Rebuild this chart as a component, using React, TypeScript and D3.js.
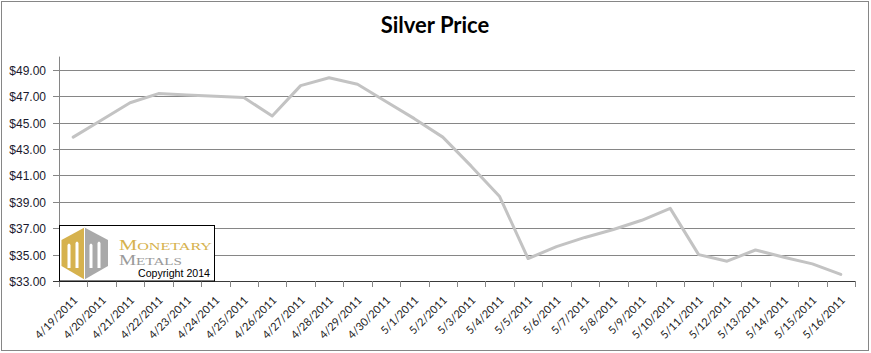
import React from "react";
import * as d3 from "d3";

const dates = [
  "4/19/2011","4/20/2011","4/21/2011","4/22/2011","4/23/2011","4/24/2011","4/25/2011",
  "4/26/2011","4/27/2011","4/28/2011","4/29/2011","4/30/2011","5/1/2011","5/2/2011",
  "5/3/2011","5/4/2011","5/5/2011","5/6/2011","5/7/2011","5/8/2011","5/9/2011",
  "5/10/2011","5/11/2011","5/12/2011","5/13/2011","5/14/2011","5/15/2011","5/16/2011",
];
const prices = [
  43.9, 45.2, 46.5, 47.2, 47.1, 47.0, 46.9,
  45.5, 47.8, 48.4, 47.9, 46.6, 45.3, 43.9,
  41.7, 39.4, 34.7, 35.6, 36.3, 36.9, 37.6,
  38.5, 35.0, 34.5, 35.35, 34.8, 34.3, 33.5,
];
const yTicks = [33, 35, 37, 39, 41, 43, 45, 47, 49];
const title = "Silver Price";

const W = 871, H = 353;
const left = 59, right = 855, top = 56.6, bottom = 281;

export default function App() {
  const x = d3.scaleBand<string>().domain(dates).range([left, right]).padding(0);
  const y = d3.scaleLinear().domain([33, 50]).range([bottom, top]);
  const cx = (d: string) => (x(d) as number) + x.bandwidth() / 2;
  const line = d3
    .line<number>()
    .x((_, i) => cx(dates[i]))
    .y((v) => y(v));
  const boundaries = dates.map((d) => x(d) as number).concat([right]);
  const gridColor = "#868686";

  const hx = 84.5, hl = 61.5, hr = 108, ht = 227.5, hu = 240, hd = 266, hb = 279.5;
  const leftHex = `M${hx},${ht} L${hl},${hu} L${hl},${hd} L${hx},${hb} Z`;
  const rightHex = `M${hx},${ht} L${hr},${hu} L${hr},${hd} L${hx},${hb} Z`;
  const slots = [67.5, 75.5, 89.5, 97.5];

  return (
    <svg
      width={W}
      height={H}
      style={{ position: "absolute", left: 0, top: 0, background: "#fff" }}
    >
      <rect x={1.5} y={1.5} width={867} height={349} fill="#fff" stroke={gridColor} strokeWidth={1} />
      <text
        x={435}
        y={33}
        textAnchor="middle"
        fontFamily="Lato, 'Open Sans', sans-serif"
        fontWeight="bold"
        fontSize={22}
        fill="#000"
      >
        {title}
      </text>

      {yTicks.map((t) => (
        <g key={t}>
          <line
            x1={left - 6}
            x2={right}
            y1={Math.round(y(t)) + 0.5}
            y2={Math.round(y(t)) + 0.5}
            stroke={t === 33 ? "#3a3a3a" : gridColor}
            strokeWidth={1}
          />
          <text
            x={46}
            y={Math.round(y(t)) + 4.5}
            textAnchor="end"
            fontFamily="'Liberation Sans', Arial, sans-serif"
            fontSize={12}
            fill="#1a1a2e"
          >
            {"$" + t.toFixed(2)}
          </text>
        </g>
      ))}
      <line x1={left + 0.5} x2={left + 0.5} y1={top} y2={bottom + 0.5} stroke={gridColor} />
      {boundaries.map((b, i) => (
        <line
          key={i}
          x1={Math.round(b) + 0.5}
          x2={Math.round(b) + 0.5}
          y1={bottom}
          y2={bottom + 6}
          stroke={gridColor}
        />
      ))}
      {dates.map((d) => (
        <text
          key={d}
          transform={`translate(${cx(d) + 5},${bottom + 20}) rotate(-45)`}
          textAnchor="end"
          fontFamily="Lato, Calibri, sans-serif"
          fontSize={11}
          fill="#222"
        >
          {d}
        </text>
      ))}

      <path
        d={line(prices) || ""}
        fill="none"
        stroke="#c3c3c3"
        strokeWidth={3}
        strokeLinejoin="round"
        strokeLinecap="round"
      />

      <g>
        <rect x={59.5} y={225.5} width={155} height={55.5} fill="#fff" stroke="#000" strokeWidth={1} />
        <path d={leftHex} fill="#d6b24e" />
        <path d={rightHex} fill="#a9a9a9" />
        <line x1={hx} x2={hx} y1={ht} y2={hb} stroke="#fff" strokeWidth={1} />
        {slots.map((s, i) => (
          <path
            key={i}
            d={`M${s},268 L${s},${245 + (i % 2) * -2} Q${s + 1.5},${242 + (i % 2) * -2} ${s + 3},${245 + (i % 2) * -2} L${s + 3},268 Z`}
            fill="#fff"
          />
        ))}
        <text
          x={119}
          y={250}
          fontFamily="'Liberation Serif', 'DejaVu Serif', serif"
          fill="#d6b24e"
          textLength={93}
          lengthAdjust="spacingAndGlyphs"
        >
          <tspan fontSize={14}>M</tspan>
          <tspan fontSize={11}>ONETARY</tspan>
        </text>
        <text
          x={119}
          y={265}
          fontFamily="'Liberation Serif', 'DejaVu Serif', serif"
          fill="#9a9a9a"
          textLength={63}
          lengthAdjust="spacingAndGlyphs"
        >
          <tspan fontSize={14}>M</tspan>
          <tspan fontSize={11}>ETALS</tspan>
        </text>
        <text
          x={138}
          y={277}
          fontFamily="'Liberation Sans', Arial, sans-serif"
          fontSize={11.5}
          fill="#000"
          textLength={72}
          lengthAdjust="spacingAndGlyphs"
        >
          Copyright 2014
        </text>
      </g>
    </svg>
  );
}
